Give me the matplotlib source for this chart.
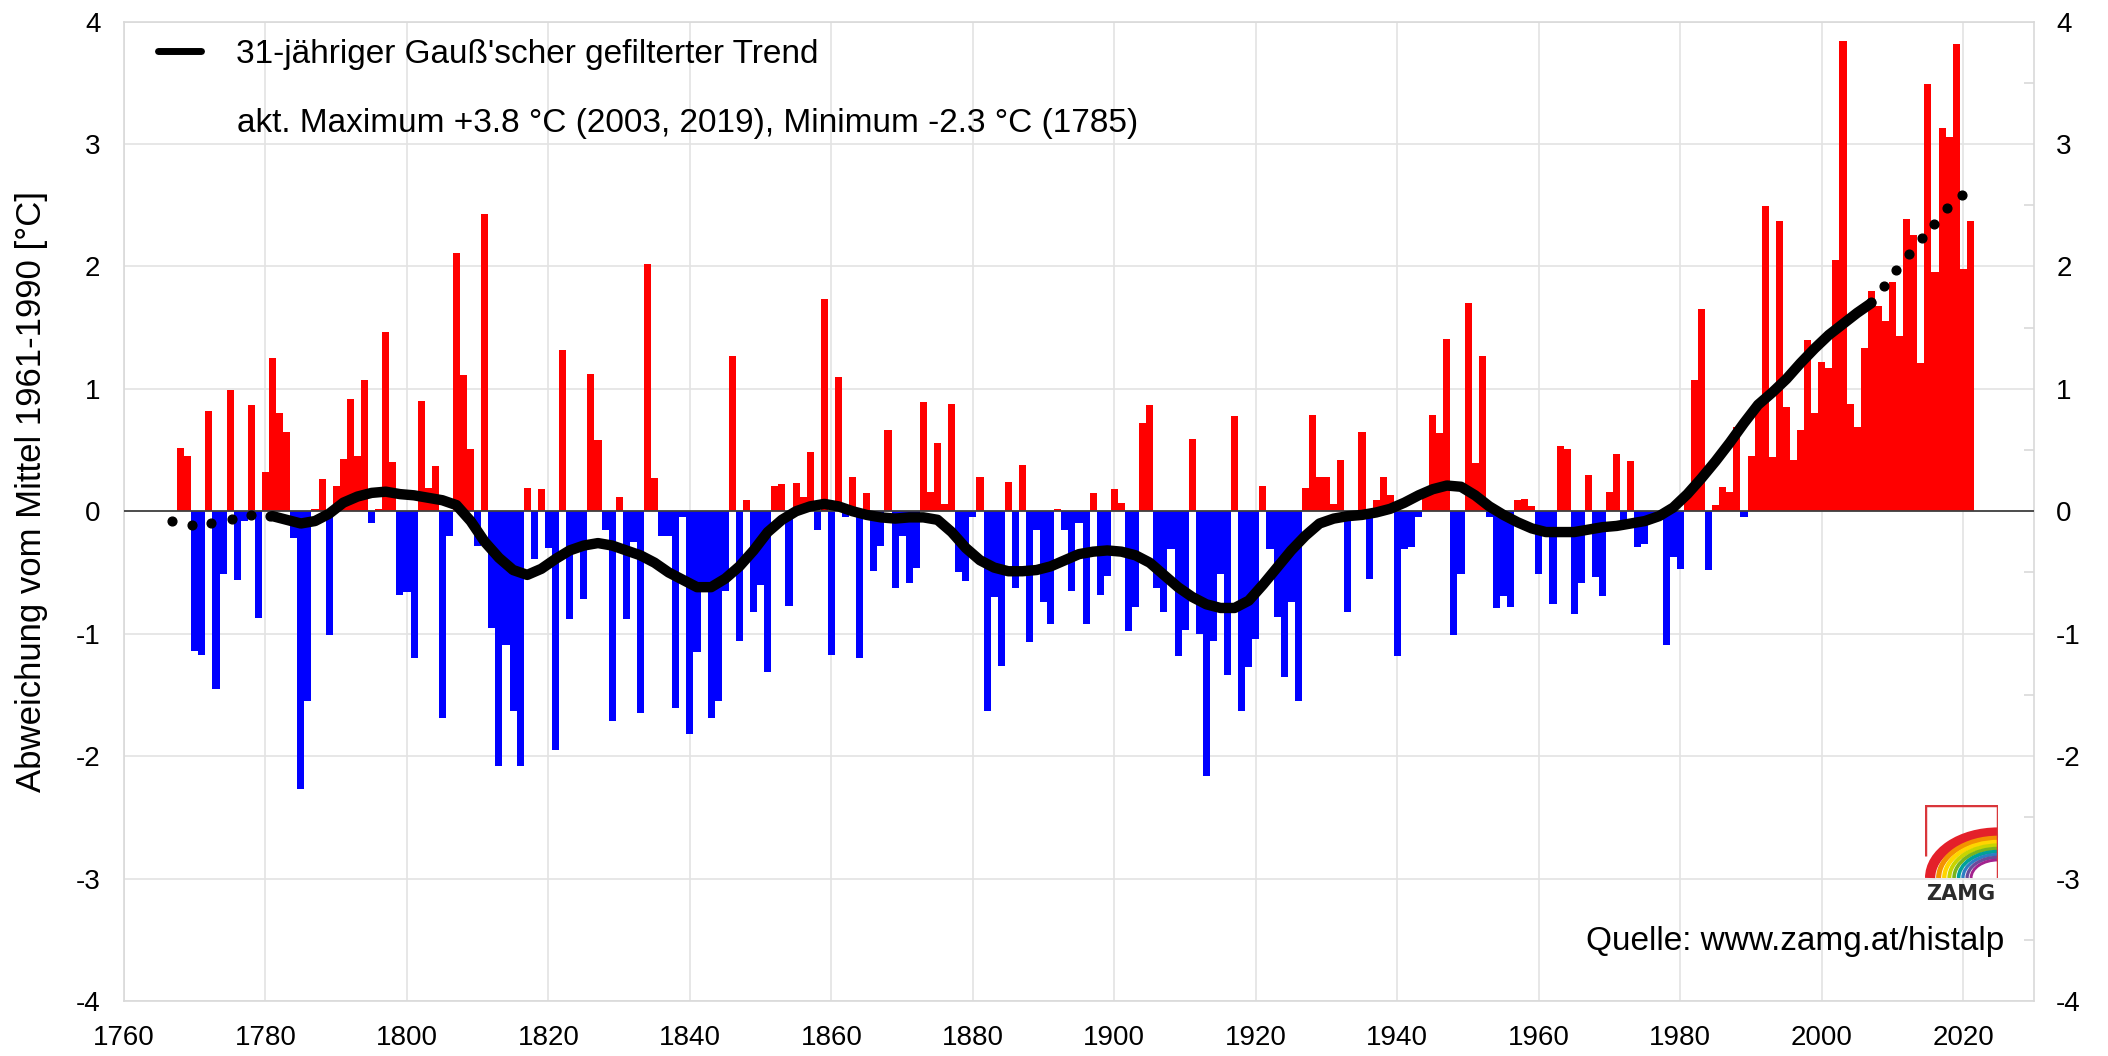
import numpy as np
import matplotlib
matplotlib.use("Agg")
import matplotlib.pyplot as plt
from matplotlib.lines import Line2D
from matplotlib.patches import Arc

plt.rcParams['font.family'] = ['Liberation Sans', 'DejaVu Sans']
plt.rcParams['axes.unicode_minus'] = False

# annual anomalies vs 1961-1990 mean, 1768-2021
years = np.arange(1768, 2022)
anomaly = [
    0.52, 0.45,
    -1.14, -1.17, 0.82, -1.45, -0.51, 0.99, -0.56, -0.08, 0.87, -0.87,   # 1770s
    0.32, 1.25, 0.80, 0.65, -0.22, -2.27, -1.55, 0.02, 0.26, -1.01,      # 1780s
    0.21, 0.43, 0.92, 0.45, 1.07, -0.10, 0.02, 1.46, 0.40, -0.68,        # 1790s
    -0.66, -1.20, 0.90, 0.19, 0.37, -1.69, -0.20, 2.11, 1.11, 0.51,      # 1800s
    -0.28, 2.43, -0.95, -2.08, -1.09, -1.63, -2.08, 0.19, -0.39, 0.18,   # 1810s
    -0.30, -1.95, 1.32, -0.88, -0.27, -0.72, 1.12, 0.58, -0.15, -1.71,   # 1820s
    0.12, -0.88, -0.25, -1.65, 2.02, 0.27, -0.20, -0.20, -1.61, -0.05,   # 1830s
    -1.82, -1.15, -0.60, -1.69, -1.55, -0.65, 1.27, -1.06, 0.09, -0.82,  # 1840s
    -0.60, -1.31, 0.21, 0.22, -0.77, 0.23, 0.12, 0.48, -0.15, 1.73,      # 1850s
    -1.17, 1.10, -0.05, 0.28, -1.20, 0.15, -0.49, -0.28, 0.66, -0.63,    # 1860s
    -0.20, -0.59, -0.46, 0.89, 0.16, 0.56, 0.06, 0.88, -0.50, -0.57,     # 1870s
    -0.05, 0.28, -1.63, -0.70, -1.26, 0.24, -0.63, 0.38, -1.07, -0.15,   # 1880s
    -0.74, -0.92, 0.02, -0.15, -0.65, -0.10, -0.92, 0.15, -0.68, -0.53,  # 1890s
    0.18, 0.07, -0.98, -0.78, 0.72, 0.87, -0.63, -0.82, -0.31, -1.18,    # 1900s
    -0.97, 0.59, -1.00, -2.16, -1.06, -0.51, -1.34, 0.78, -1.63, -1.27,  # 1910s
    -1.04, 0.21, -0.31, -0.86, -1.35, -0.74, -1.55, 0.19, 0.79, 0.28,    # 1920s
    0.28, 0.06, 0.42, -0.82, -0.05, 0.65, -0.55, 0.09, 0.28, 0.13,       # 1930s
    -1.18, -0.31, -0.29, -0.05, 0.18, 0.79, 0.64, 1.41, -1.01, -0.51,    # 1940s
    1.70, 0.39, 1.27, -0.05, -0.79, -0.69, -0.78, 0.09, 0.10, 0.04,      # 1950s
    -0.51, -0.15, -0.76, 0.53, 0.51, -0.84, -0.59, 0.30, -0.54, -0.69,   # 1960s
    0.16, 0.47, -0.09, 0.41, -0.29, -0.27, -0.03, -0.03, -1.09, -0.37,   # 1970s
    -0.47, 0.12, 1.07, 1.65, -0.48, 0.05, 0.20, 0.16, 0.69, -0.05,       # 1980s
    0.45, 0.87, 2.49, 0.44, 2.37, 0.85, 0.42, 0.66, 1.40, 0.80,          # 1990s
    1.22, 1.17, 2.05, 3.84, 0.88, 0.69, 1.33, 1.80, 1.68, 1.55,          # 2000s
    1.87, 1.43, 2.39, 2.26, 1.21, 3.49, 1.95, 3.13, 3.06, 3.82,          # 2010s
    1.98, 2.37,
]

# 31-year Gaussian filtered trend (solid part)
trend_years = np.arange(1781, 2008, 2)
trend = [
    -0.04, -0.07, -0.10, -0.08, -0.02, 0.07, 0.12, 0.15, 0.16, 0.14,
    0.13, 0.11, 0.09, 0.05, -0.08, -0.25, -0.38, -0.48, -0.52, -0.47,
    -0.39, -0.32, -0.28, -0.26, -0.28, -0.32, -0.36, -0.42, -0.50, -0.56,
    -0.62, -0.62, -0.55, -0.45, -0.32, -0.17, -0.07, 0.00, 0.04, 0.06,
    0.04, 0.00, -0.03, -0.05, -0.06, -0.05, -0.05, -0.07, -0.17, -0.30,
    -0.40, -0.46, -0.49, -0.49, -0.48, -0.45, -0.40, -0.35, -0.33, -0.32,
    -0.33, -0.36, -0.42, -0.52, -0.62, -0.70, -0.76, -0.79, -0.79, -0.73,
    -0.60, -0.46, -0.32, -0.20, -0.10, -0.06, -0.04, -0.03, -0.01, 0.02,
    0.07, 0.13, 0.18, 0.21, 0.20, 0.13, 0.04, -0.03, -0.09, -0.14,
    -0.17, -0.17, -0.17, -0.15, -0.13, -0.12, -0.10, -0.08, -0.04, 0.03,
    0.14, 0.27, 0.41, 0.56, 0.72, 0.87, 0.97, 1.08, 1.21, 1.33,
    1.44, 1.53, 1.62, 1.70,
]
# dotted ends of the trend (filter edge)
dots_start_years = [1766.8, 1769.6, 1772.3, 1775.2, 1777.9, 1780.7]
dots_start = [-0.08, -0.11, -0.10, -0.06, -0.03, -0.04]
dots_end_years = [2007.0, 2008.8, 2010.5, 2012.4, 2014.1, 2015.8, 2017.7, 2019.8]
dots_end = [1.71, 1.84, 1.97, 2.10, 2.23, 2.35, 2.48, 2.58]

xticks = list(range(1760, 2021, 20))
yticks = list(range(-4, 5))

W, H = 2108, 1056
fig = plt.figure(figsize=(W / 100, H / 100), dpi=100)
ax = fig.add_axes([124 / W, 1 - 1001 / H, (2034 - 124) / W, (1001 - 21.5) / H])

colors = ['#FF0000' if v > 0 else '#0000FF' for v in anomaly]
ax.bar(years, anomaly, width=1.0, color=colors, linewidth=0, zorder=2)
ax.axhline(0, color='#404040', lw=1.3, zorder=3)

ax.plot(trend_years, trend, color='black', lw=7.5, solid_capstyle='round',
        solid_joinstyle='round', zorder=4)
ax.plot(dots_start_years, dots_start, 'o', color='black', ms=6.3, zorder=4)
ax.plot(dots_end_years, dots_end, 'o', color='black', ms=6.3, zorder=4)

ax.set_xlim(1760, 2030)
ax.set_ylim(-4, 4)
ax.set_xticks(xticks)
ax.set_yticks(yticks)
ax.tick_params(axis='both', length=0, labelsize=20, colors='black')
ax.tick_params(axis='x', pad=17)
ax.tick_params(axis='y', pad=17)
ax.grid(True, color='#E3E3E3', lw=1.2, zorder=0)
ax.set_axisbelow(True)
for s in ax.spines.values():
    s.set_color('#D9D9D9')
    s.set_linewidth(1.2)

ax2 = ax.twinx()
ax2.set_ylim(-4, 4)
ax2.set_yticks(yticks)
ax2.set_yticks(np.arange(-3.5, 4, 1), minor=True)
ax2.tick_params(axis='y', which='major', length=0, labelsize=20, pad=16)
ax2.tick_params(axis='y', which='minor', length=7, direction='in', color='#D9D9D9', width=1.2)
for s in ax2.spines.values():
    s.set_visible(False)

ax.set_ylabel('Abweichung vom Mittel 1961-1990 [°C]', fontsize=25)
ax.yaxis.set_label_coords(-0.040, 0.52)

proxy = Line2D([], [], color='black', lw=5, solid_capstyle='round')
fig.legend([proxy], ["31-jähriger Gauß'scher gefilterter Trend"], loc='upper left',
           bbox_to_anchor=(158 / W, 1 - 39 / H), frameon=False, fontsize=24,
           handlelength=1.3, handletextpad=1.05, borderpad=0, borderaxespad=0)
fig.text(237 / W, 1 - 132 / H, 'akt. Maximum +3.8 °C (2003, 2019), Minimum -2.3 °C (1785)',
         fontsize=24, va='baseline', ha='left')
fig.text(2004 / W, 1 - 950 / H, 'Quelle: www.zamg.at/histalp', fontsize=24,
         va='baseline', ha='right')

# ZAMG logo
lg = fig.add_axes([1925 / W, 1 - 878 / H, 73 / W, 73 / H])
lg.set_xlim(0, 1)
lg.set_ylim(0, 1)
lg.axis('off')
lg.plot([0, 0, 1, 1], [0.3, 1, 1, 0], color='#D9363B', lw=2.5, solid_capstyle='butt')
rainbow = ['#E4202A', '#F39200', '#FFD500', '#C8D400', '#7AB51D', '#00A19A', '#2D7DC4', '#6A4C9C', '#A3238E']
widths = [0.14, 0.07, 0.06, 0.055, 0.05, 0.05, 0.045, 0.045, 0.04]
r = 1.0
for c, w in zip(rainbow, widths):
    lg.add_patch(Arc((1.0, 0.0), 2 * (r - w / 2), 2 * 0.67 * (r - w / 2), theta1=90, theta2=180,
                     color=c, lw=w * 73 * 0.72, clip_on=False))
    r -= w + 0.012
fig.text(1961 / W, 1 - 894 / H, 'ZAMG', fontsize=15, fontweight='bold', color='#2B2B2B',
         family='DejaVu Sans', ha='center', va='center')

fig.savefig('out.png', dpi=100)
